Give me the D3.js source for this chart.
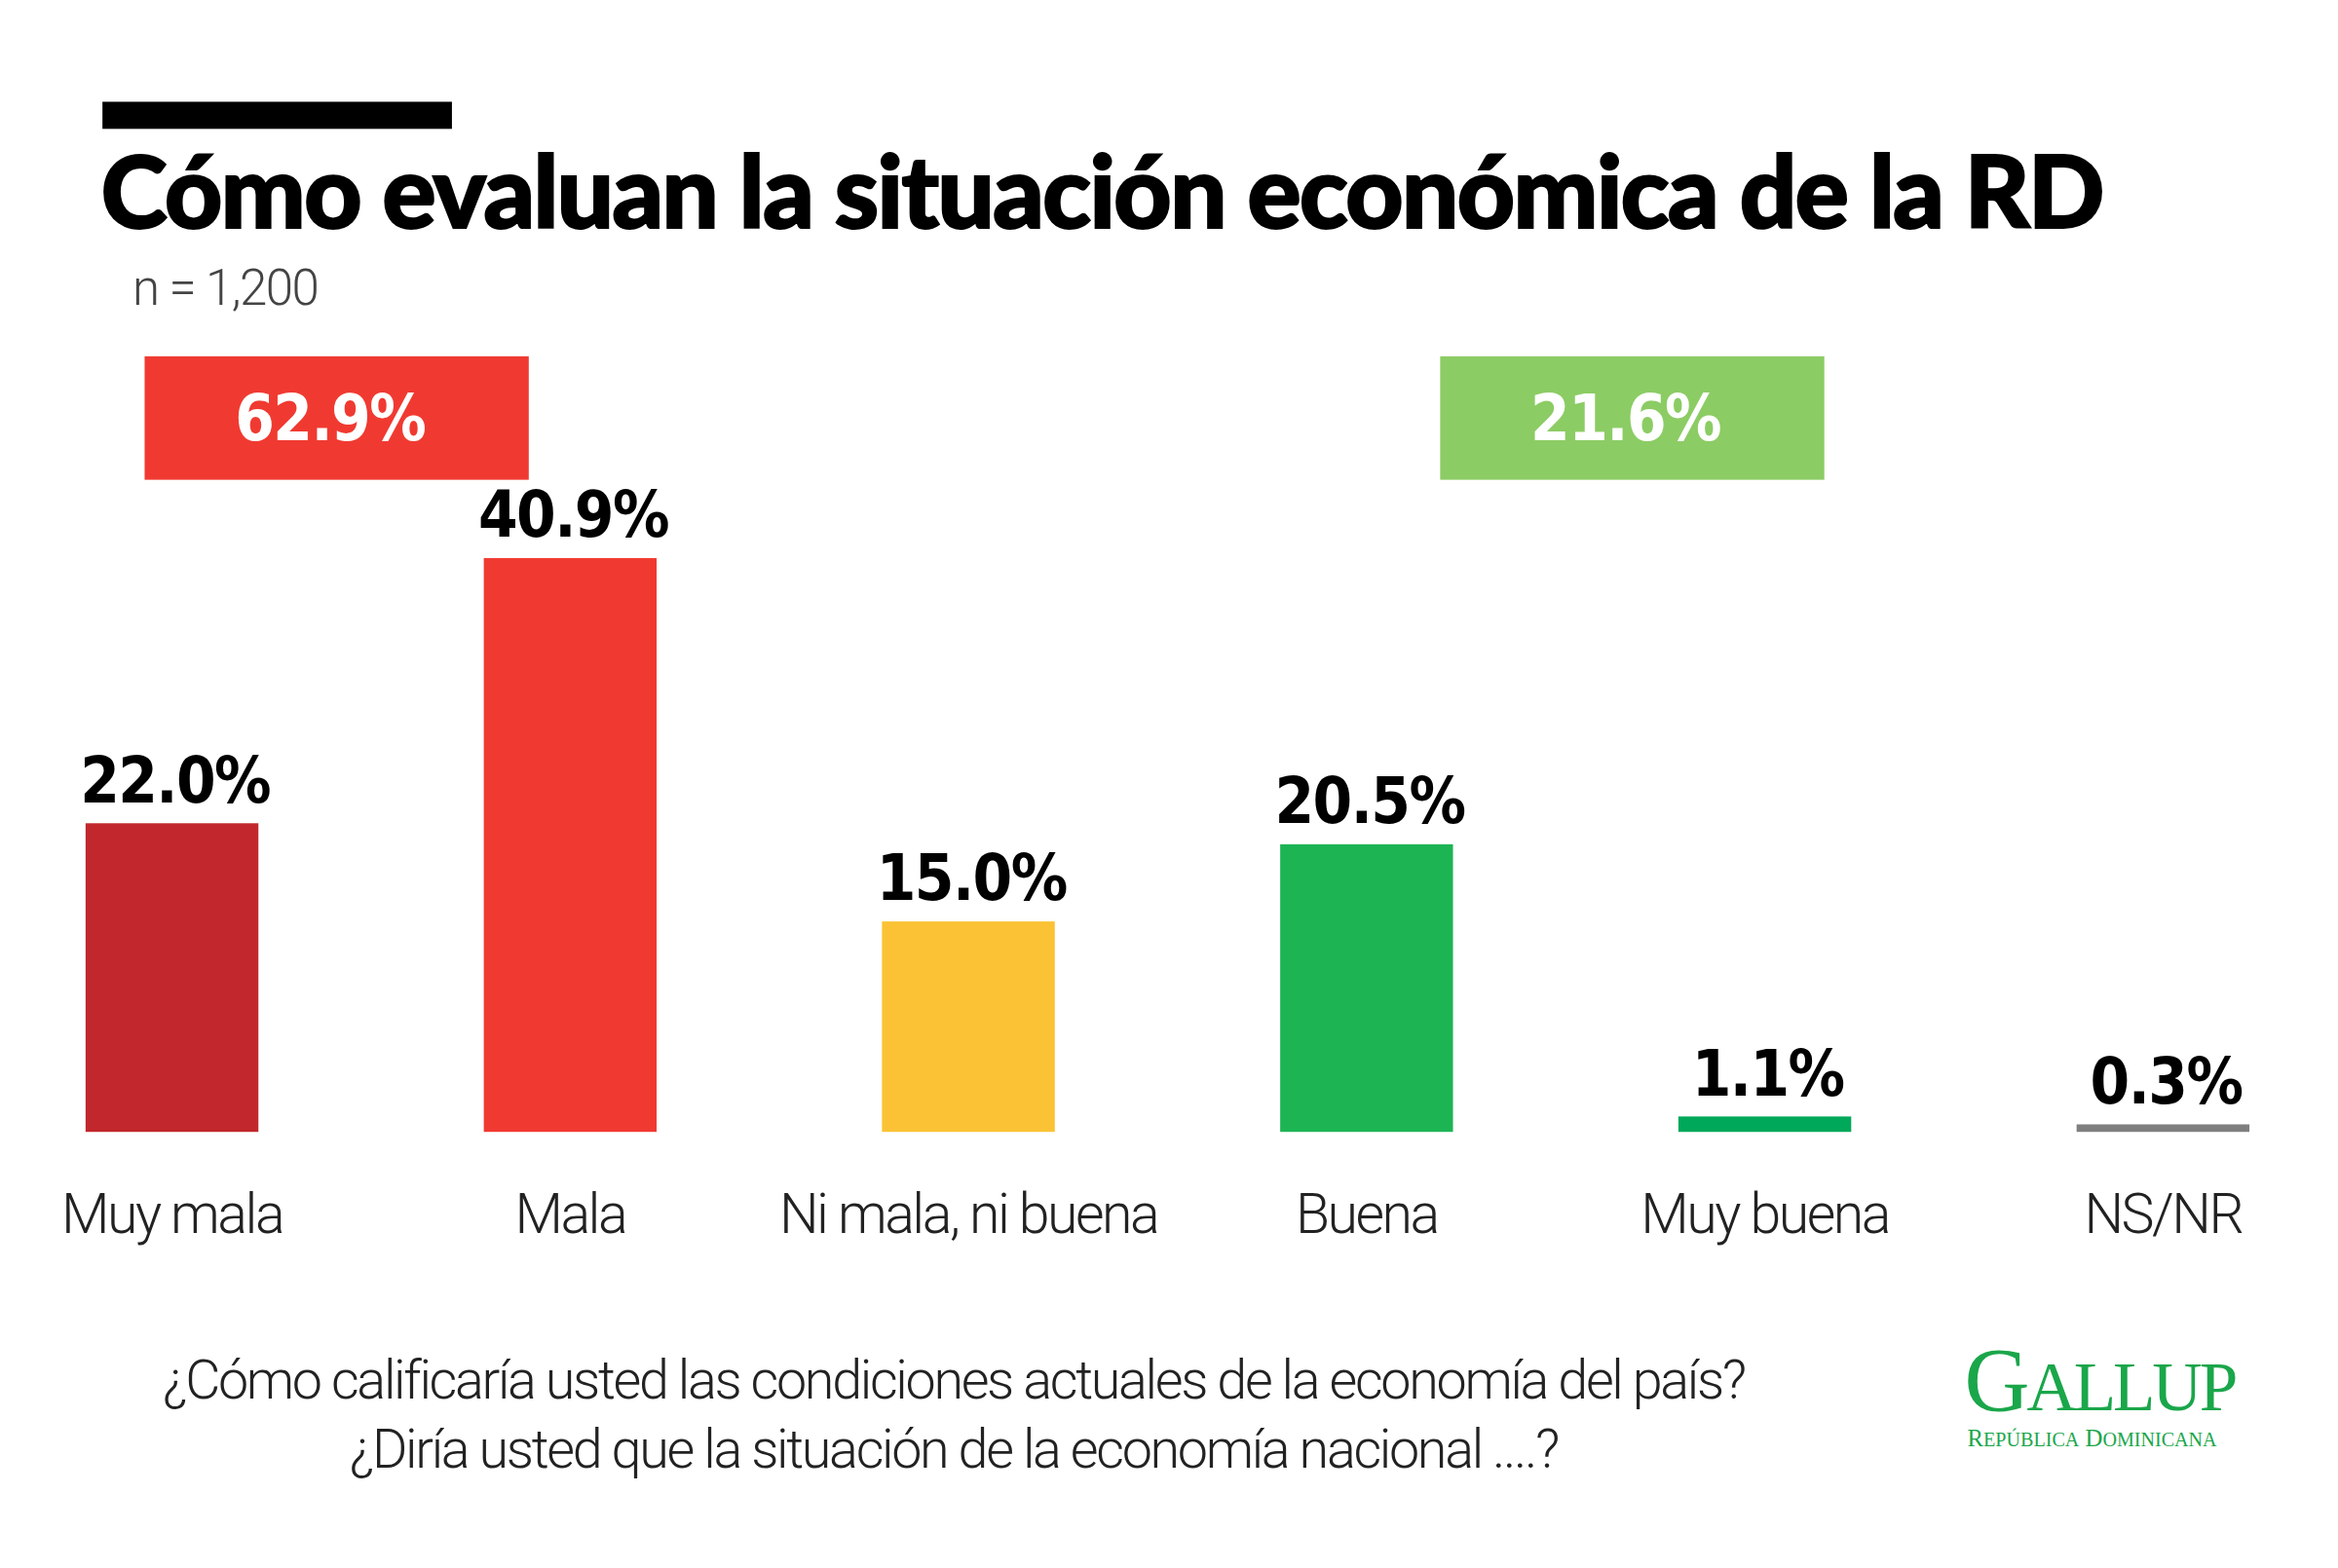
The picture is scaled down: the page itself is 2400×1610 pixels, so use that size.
<!DOCTYPE html>
<html><head><meta charset="utf-8">
<script src="https://cdn.jsdelivr.net/npm/d3@7"></script>
<style>body{margin:0;background:#fff}svg{display:block}</style>
</head><body>
<script>
// data
const categories = ["Muy mala", "Mala", "Ni mala, ni buena", "Buena", "Muy buena", "NS/NR"];
const values = [22.0, 40.9, 15.0, 20.5, 1.1, 0.3];
const colors = ["#c1272d", "#f03a31", "#fbc235", "#1db554", "#00a859", "#7f7f7f"];
const groups = [{label: "62.9%", color: "#f03a31", x: 96}, {label: "21.6%", color: "#8ccc64", x: 956}];

const W = 1552, H = 1040;
const svg = d3.select("body").append("svg")
    .attr("width", 2400).attr("height", 1610)
    .attr("viewBox", `0 0 ${W} ${H}`);

const cond = "'DejaVu Sans Condensed', 'DejaVu Sans'";

svg.append("rect").attr("x", 68).attr("y", 67).attr("width", 232).attr("height", 18).attr("fill", "#000");
svg.append("text").attr("x", 67).attr("y", 151)
    .style("font", "900 67px Lato").attr("letter-spacing", -1.3)
    .attr("stroke", "#000").attr("stroke-width", 1.2)
    .text("Cómo evaluan la situación económica de la RD");
svg.append("text").attr("x", 88).attr("y", 202)
    .style("font", "300 33px Roboto").attr("fill", "#444").attr("letter-spacing", -1)
    .text("n = 1,200");

const x = d3.scaleBand().domain(categories).range([-18, 1568]).paddingInner(0.566).paddingOuter(0.283);
const y = d3.scaleLinear().domain([0, 40.9]).range([751, 370]);

groups.forEach(g => {
  svg.append("rect").attr("x", g.x).attr("y", 236).attr("width", 255).attr("height", 82).attr("fill", g.color);
  svg.append("text").attr("x", g.x + 123).attr("y", 292).attr("text-anchor", "middle")
      .attr("fill", "#fff").style("font", `bold 42px ${cond}`).attr("letter-spacing", -1).text(g.label);
});

const barTop = v => Math.min(y(v), 746);
const bar = svg.selectAll("g.bar").data(categories).join("g").attr("class", "bar");
bar.append("rect")
    .attr("x", d => x(d)).attr("width", x.bandwidth())
    .attr("y", (d, i) => barTop(values[i]))
    .attr("height", (d, i) => 751 - barTop(values[i]))
    .attr("fill", (d, i) => colors[i]);
bar.append("text")
    .attr("x", d => x(d) + x.bandwidth() / 2 + 2)
    .attr("y", (d, i) => barTop(values[i]) - 14)
    .attr("text-anchor", "middle")
    .style("font", `bold 42px ${cond}`).attr("letter-spacing", -1)
    .text((d, i) => values[i].toFixed(1) + "%");
bar.append("text")
    .attr("x", d => x(d) + x.bandwidth() / 2)
    .attr("y", 818).attr("text-anchor", "middle")
    .style("font", "300 37px Roboto").attr("letter-spacing", -1.6).attr("fill", "#222")
    .text(d => d);

const q = ["¿Cómo calificaría usted las condiciones actuales de la economía del país?",
           "¿Diría usted que la situación de la economía nacional ....?"];
svg.selectAll("text.q").data(q).join("text").attr("class", "q")
    .attr("x", 633).attr("y", (d, i) => 928 + i * 46).attr("text-anchor", "middle")
    .style("font", "300 36px Roboto").attr("letter-spacing", -1.5).attr("fill", "#222")
    .text(d => d);

// logo
svg.append("text").attr("x", 1304).attr("y", 936)
    .style("font", "60px 'Liberation Serif'").attr("fill", "#1aa64a").attr("letter-spacing", -2)
    .html('G<tspan font-size="46">ALLUP</tspan>');
svg.append("text").attr("x", 1306).attr("y", 960)
    .style("font", "16px 'Liberation Serif'").attr("fill", "#1aa64a")
    .html('R<tspan font-size="13">EPÚBLICA</tspan> D<tspan font-size="13">OMINICANA</tspan>');
</script>
</body></html>
